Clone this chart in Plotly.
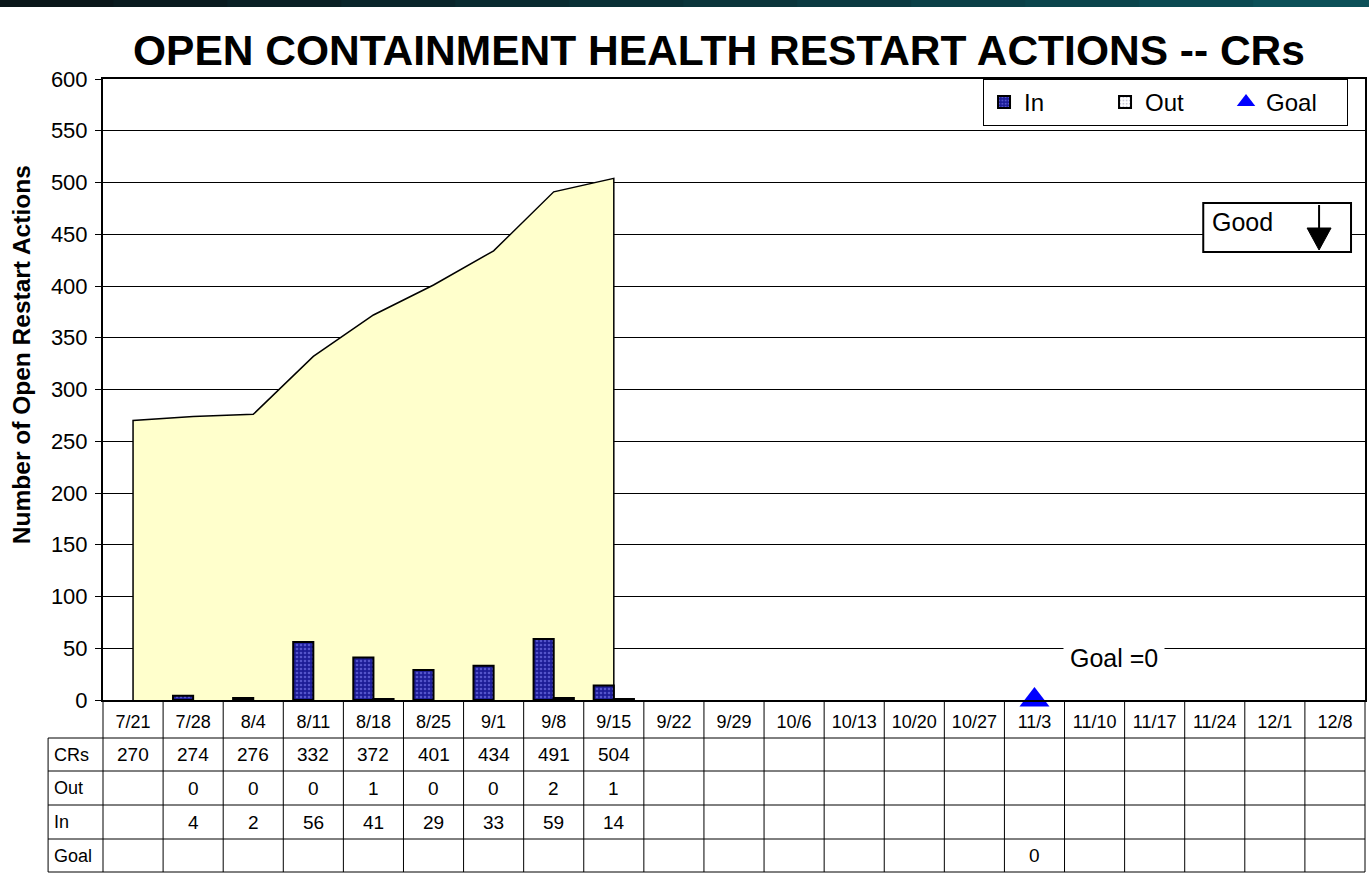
import plotly.graph_objects as go

# ---------------- data ----------------
dates = ["7/21", "7/28", "8/4", "8/11", "8/18", "8/25", "9/1", "9/8", "9/15",
         "9/22", "9/29", "10/6", "10/13", "10/20", "10/27", "11/3", "11/10",
         "11/17", "11/24", "12/1", "12/8"]
cr_dates = ["7/21", "7/28", "8/4", "8/11", "8/18", "8/25", "9/1", "9/8", "9/15"]
crs = [270, 274, 276, 332, 372, 401, 434, 491, 504]
out_vals = [None, 0, 0, 0, 1, 0, 0, 2, 1]
in_vals = [None, 4, 2, 56, 41, 29, 33, 59, 14]
goal_dates = ["11/3"]
goal_vals = [0]

FONT = "Liberation Sans, Arial, sans-serif"
W, H = 1370, 875
L, R, T, B = 103, 3, 79, 175
PW, PH = W - L - R, H - T - B


def px2x(px):
    return (px - L) / PW


def py2y(py):
    return (H - B - py) / PH


def line_widths(vals):
    # no outline on zero-height bars (so they do not show as flat lines)
    return [0 if v == 0 else 2 for v in vals]


fig = go.Figure()

# area (CRs) on the base subplot
area_x = [cr_dates[0]] + cr_dates + [cr_dates[-1]]
area_y = [0] + crs + [0]
fig.add_trace(go.Scatter(
    x=area_x, y=area_y, mode="lines", fill="toself", fillcolor="#FFFFCC",
    line=dict(color="black", width=1.5), showlegend=False, hoverinfo="skip",
    xaxis="x", yaxis="y"))

# bars on overlay subplot so they sit above the area
fig.add_trace(go.Bar(
    name="In", x=cr_dates, y=in_vals, xaxis="x2", yaxis="y2",
    marker=dict(color="#1c1c96", line=dict(color="black", width=line_widths(in_vals)),
                pattern=dict(shape=".", bgcolor="#1c1c96", fgcolor="#8c8cff",
                             size=4, solidity=0.35))))
fig.add_trace(go.Bar(
    name="Out", x=cr_dates, y=out_vals, xaxis="x2", yaxis="y2",
    marker=dict(color="white", line=dict(color="black", width=line_widths(out_vals)),
                pattern=dict(shape=".", bgcolor="white", fgcolor="#9090b0",
                             size=4, solidity=0.3))))
fig.add_trace(go.Scatter(
    name="Goal", x=goal_dates, y=goal_vals, mode="markers", xaxis="x2", yaxis="y2",
    marker=dict(symbol="triangle-up", color="#0000FF", size=26),
    cliponaxis=False))

shapes = []
annotations = []

# top decorative strip
nseg = 12
for i in range(nseg):
    t = i / (nseg - 1)
    r = int(10 + t * (12 - 10))
    g = int(22 + t * (80 - 22))
    b = int(26 + t * (88 - 26))
    shapes.append(dict(type="rect", xref="paper", yref="paper",
                       x0=px2x(-1 + i * W / nseg), x1=px2x((i + 1) * W / nseg + 1),
                       y0=py2y(0), y1=py2y(7), line=dict(width=0),
                       fillcolor=f"rgb({r},{g},{b})", layer="above"))

# data table grid
row_lines = [738, 771, 805, 839, 872]
table_left = 48
n = len(dates)
for i in range(n + 1):
    shapes.append(dict(type="line", xref="paper", yref="paper",
                       x0=i / n, x1=i / n, y0=0, y1=py2y(row_lines[-1]),
                       line=dict(color="black", width=1)))
for py in row_lines:
    shapes.append(dict(type="line", xref="paper", yref="paper",
                       x0=px2x(table_left), x1=1, y0=py2y(py), y1=py2y(py),
                       line=dict(color="black", width=1)))
shapes.append(dict(type="line", xref="paper", yref="paper",
                   x0=px2x(table_left), x1=px2x(table_left),
                   y0=py2y(row_lines[0]), y1=py2y(row_lines[-1]),
                   line=dict(color="black", width=1)))

rows = [("CRs", cr_dates, crs), ("Out", cr_dates, out_vals),
        ("In", cr_dates, in_vals), ("Goal", goal_dates, goal_vals)]
for k, (label, xs, vals) in enumerate(rows):
    yc = py2y((row_lines[k] + row_lines[k + 1]) / 2)
    annotations.append(dict(text=label, xref="paper", yref="paper",
                            x=px2x(52), y=yc, xanchor="left", yanchor="middle",
                            showarrow=False, font=dict(family=FONT, size=18, color="black")))
    for xv, v in zip(xs, vals):
        if v is None:
            continue
        annotations.append(dict(text=str(v), xref="x", yref="paper", x=xv, y=yc,
                                xanchor="center", yanchor="middle", showarrow=False,
                                font=dict(family=FONT, size=19, color="black")))

# y axis title
annotations.append(dict(text="<b>Number of Open Restart Actions</b>", xref="paper", yref="paper",
                        x=px2x(21), y=py2y(355), textangle=-90, showarrow=False,
                        xanchor="center", yanchor="middle",
                        font=dict(family=FONT, size=24.5, color="black")))

# Goal =0 label
annotations.append(dict(text="Goal =0", xref="paper", yref="paper",
                        x=px2x(1116), y=py2y(658), showarrow=False,
                        xanchor="center", yanchor="middle", bgcolor="white",
                        borderpad=6,
                        font=dict(family=FONT, size=25, color="black")))

# Good box with arrow
shapes.append(dict(type="rect", xref="paper", yref="paper",
                   x0=px2x(1205), x1=px2x(1353), y0=py2y(203), y1=py2y(252),
                   line=dict(color="black", width=2), fillcolor="white", layer="above"))
annotations.append(dict(text="Good", xref="paper", yref="paper",
                        x=px2x(1212), y=py2y(222), showarrow=False,
                        xanchor="left", yanchor="middle",
                        font=dict(family=FONT, size=25, color="black")))
shapes.append(dict(type="line", xref="paper", yref="paper",
                   x0=px2x(1321), x1=px2x(1321), y0=py2y(205), y1=py2y(230),
                   line=dict(color="black", width=2), layer="above"))
shapes.append(dict(type="path", xref="paper", yref="paper",
                   path=f"M {px2x(1309)} {py2y(228)} L {px2x(1333)} {py2y(228)} "
                        f"L {px2x(1321)} {py2y(250)} Z",
                   line=dict(color="black", width=1), fillcolor="black", layer="above"))

fig.update_layout(
    width=W, height=H,
    margin=dict(l=L, r=R, t=T, b=B, pad=0),
    paper_bgcolor="white", plot_bgcolor="white",
    font=dict(family=FONT, color="black"),
    title=dict(text="<b>OPEN CONTAINMENT HEALTH RESTART ACTIONS -- CRs</b>",
               x=719 / W, xanchor="center", y=1 - 50 / H, yanchor="middle",
               font=dict(family=FONT, size=42.5, color="black")),
    barmode="group", bargap=0.33, bargroupgap=0,
    showlegend=True,
    legend=dict(orientation="h", x=px2x(1350), xanchor="right",
                y=py2y(79), yanchor="top", bgcolor="white",
                bordercolor="black", borderwidth=1,
                font=dict(family=FONT, size=24, color="black"),
                entrywidth=76, entrywidthmode="pixels"),
    xaxis=dict(type="category", categoryorder="array", categoryarray=dates,
               range=[-0.5, len(dates) - 0.5], showgrid=False, zeroline=False,
               showline=True, linecolor="black", linewidth=1.5, mirror=True,
               ticks="", ticklabelstandoff=5,
               tickfont=dict(family=FONT, size=18, color="black")),
    yaxis=dict(range=[0, 600], dtick=50, showgrid=True, gridcolor="black", gridwidth=1,
               zeroline=False, showline=True, linecolor="black", linewidth=2,
               mirror=True, ticks="outside", ticklen=6, tickcolor="black",
               ticklabelstandoff=3,
               tickfont=dict(family=FONT, size=22, color="black")),
    xaxis2=dict(type="category", categoryorder="array", categoryarray=dates,
                range=[-0.5, len(dates) - 0.5], overlaying="x", visible=False),
    yaxis2=dict(range=[0, 600], overlaying="y", visible=False),
    shapes=shapes, annotations=annotations,
)

fig.write_html("out.html", config={"displayModeBar": False},
               post_script="document.body.style.margin='0px';document.body.style.overflow='hidden';")
